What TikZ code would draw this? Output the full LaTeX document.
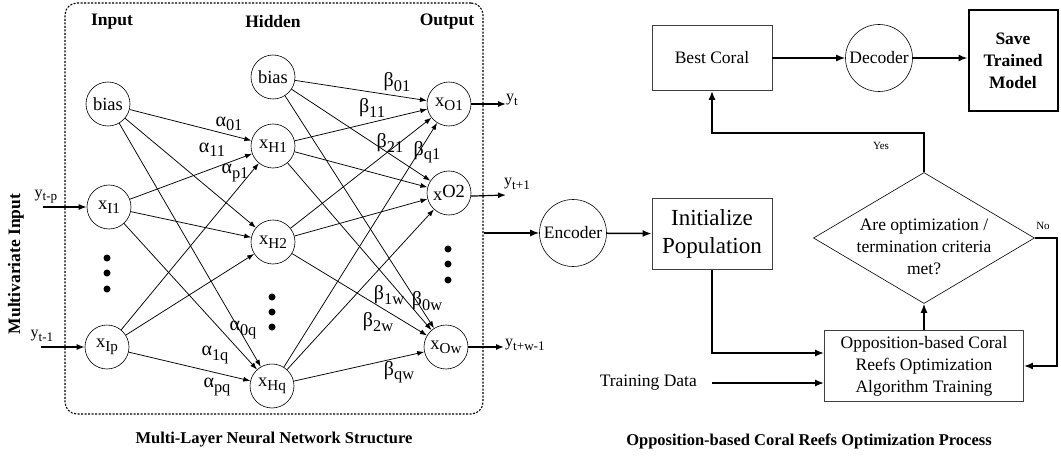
\documentclass[tikz,border=0pt]{standalone}
\usepackage{fontspec}
\setmainfont{LiberationSerif}[Extension=.ttf, UprightFont=*-Regular, BoldFont=*-Bold, ItalicFont=*-Italic, BoldItalicFont=*-BoldItalic]
\usetikzlibrary{arrows.meta,shapes.geometric,positioning,calc}
\newcommand{\lowsub}[1]{\raisebox{-0.45ex}{\scalebox{0.82}{#1}}}

\begin{document}
\begin{tikzpicture}[
    x=1pt, y=-1pt,
    neuron/.style={circle, draw, minimum size=44pt, inner sep=0pt, line width=0.6pt, font=\fontsize{18.5}{20}\selectfont},
    coder/.style={circle, draw, minimum size=67pt, inner sep=0pt, line width=0.6pt, font=\fontsize{17.5}{20}\selectfont},
    block/.style={rectangle, draw=black!75, line width=0.9pt, align=center, inner sep=0pt, font=\fontsize{17.5}{22}\selectfont},
    layer-label/.style={font=\fontsize{17.5}{20}\selectfont\bfseries},
    caption/.style={font=\fontsize{16.5}{20}\selectfont\bfseries},
    weight/.style={font=\fontsize{20}{22}\selectfont, inner sep=0pt},
    signal/.style={font=\fontsize{16}{18}\selectfont, inner sep=0pt},
    small-label/.style={font=\fontsize{11}{12}\selectfont, inner sep=0pt},
    link/.style={-{Latex[length=7pt,width=5pt]}, line width=0.75pt},
    io-arrow/.style={-{Latex[length=8pt,width=6pt]}, line width=1.2pt},
    flow/.style={-{Latex[length=9pt,width=7pt]}, line width=1.5pt}
]
\useasboundingbox (0,0) rectangle (1061,460);

% Network frame
\node[draw, dash pattern=on 2pt off 1.5pt, line width=1.1pt, rounded corners=12pt,
      minimum width=418pt, minimum height=411pt] (net) at (274,208.5) {};

% Layer titles
\node[layer-label] (in-title) at (112,22) {Input};
\node[layer-label] (hid-title) at (273,22) {Hidden};
\node[layer-label] (out-title) at (447,22) {Output};
\node[layer-label, rotate=90] (mv-title) at (16,264) {Multivariate Input};

% Input layer
\node[neuron] (bI) at (108,104) {bias};
\node[neuron] (xI1) at (109,207) {x\lowsub{I1}};
\node[neuron] (xIp) at (107,347) {x\lowsub{Ip}};
\fill (107,258) circle (3.5pt) (107,273) circle (3.5pt) (107,289) circle (3.5pt);

% Hidden layer
\node[neuron] (bH) at (273,77) {bias};
\node[neuron] (xH1) at (273,146) {x\lowsub{H1}};
\node[neuron] (xH2) at (273,242) {x\lowsub{H2}};
\node[neuron] (xHq) at (272,386) {x\lowsub{Hq}};
\fill (272,297) circle (3.5pt) (272,312) circle (3.5pt) (272,327) circle (3.5pt);

% Output layer
\node[neuron] (xO1) at (449,104) {x\lowsub{O1}};
\node[neuron] (xO2) at (449,193) {\raisebox{-0.2em}{x}O2};
\node[neuron] (xOw) at (446,347) {x\lowsub{Ow}};
\fill (448,249) circle (3.5pt) (448,264) circle (3.5pt) (448,280) circle (3.5pt);

% Input to hidden weights
\draw[link] (bI) -- (xH1);
\draw[link] (bI) -- (xH2);
\draw[link] (bI) -- (xHq);
\draw[link] (xI1) -- (xH1);
\draw[link] (xI1) -- (xH2);
\draw[link] (xI1) -- (xHq);
\draw[link] (xIp) -- (xH1);
\draw[link] (xIp) -- (xH2);
\draw[link] (xIp) -- (xHq);

% Hidden to output weights
\draw[link] (bH) -- (xO1);
\draw[link] (bH) -- (xO2);
\draw[link] (bH) -- (xOw);
\draw[link] (xH1) -- (xO1);
\draw[link] (xH1) -- (xO2);
\draw[link] (xH1) -- (xOw);
\draw[link] (xH2) -- (xO1);
\draw[link] (xH2) -- (xO2);
\draw[link] (xH2) -- (xOw);
\draw[link] (xHq) -- (xO1);
\draw[link] (xHq) -- (xO2);
\draw[link] (xHq) -- (xOw);

% Weight labels
\node[weight] (a01) at (229,124) {α\lowsub{01}};
\node[weight] (a11) at (212,150) {α\lowsub{11}};
\node[weight] (ap1) at (235,173) {α\lowsub{p1}};
\node[weight] (a0q) at (243,330) {α\lowsub{0q}};
\node[weight] (a1q) at (215,355) {α\lowsub{1q}};
\node[weight] (apq) at (217,387) {α\lowsub{pq}};
\node[weight] (b01) at (397,82) {β\lowsub{01}};
\node[weight] (b11) at (372,108) {β\lowsub{11}};
\node[weight] (b21) at (390,143) {β\lowsub{21}};
\node[weight] (bq1) at (427,152) {β\lowsub{q1}};
\node[weight] (b1w) at (389,295) {β\lowsub{1w}};
\node[weight] (b0w) at (427,301) {β\lowsub{0w}};
\node[weight] (b2w) at (378,322) {β\lowsub{2w}};
\node[weight] (bqw) at (399,372) {β\lowsub{qw}};

% Inputs and outputs
\coordinate (in1) at (43,207);
\coordinate (in2) at (41,347);
\node[signal] (yin1) at (46,197) {y\lowsub{t-p}};
\node[signal] (yin2) at (42,336) {y\lowsub{t-1}};
\draw[io-arrow] (in1) -- (xI1);
\draw[io-arrow] (in2) -- (xIp);

\coordinate (out1) at (506,104);
\coordinate (out2) at (506,195);
\coordinate (out3) at (504,347);
\node[signal, anchor=west] (yout1) at (506,100) {y\lowsub{t}};
\node[signal, anchor=west] (yout2) at (504,184) {y\lowsub{t+1}};
\node[signal, anchor=west] (yout3) at (505,345) {y\lowsub{t+w-1}};
\draw[io-arrow] (xO1) -- (out1);
\draw[io-arrow] (xO2.-8) -- (out2);
\draw[io-arrow] (xOw) -- (out3);

\node[caption] (net-cap) at (274,440) {Multi-Layer Neural Network Structure};

% Optimization process
\node[coder] (enc) at (573,233) {Encoder};
\node[block, minimum width=120pt, minimum height=71pt, font=\fontsize{23}{28}\selectfont] (init) at (712,234) {Initialize\\Population};
\node[block, minimum width=120pt, minimum height=65pt] (best) at (712,58) {Best Coral};
\node[coder] (dec) at (879,58) {Decoder};
\node[block, draw=black, line width=2pt, minimum width=89pt, minimum height=101pt, font=\fontsize{17.5}{22}\selectfont\bfseries] (save) at (1013,60.5) {Save\\Trained\\Model};
\node[block, minimum width=199pt, minimum height=71pt] (ocro) at (924,366) {Opposition-based Coral\\Reefs Optimization\\Algorithm Training};
\node[diamond, draw, aspect=1.69, minimum width=221pt, minimum height=131pt, inner sep=0pt, line width=0.6pt] (crit) at (924,238) {};
\node[align=center, font=\fontsize{17.5}{22}\selectfont] (crit-text) at ($(crit.center)+(0,9)$) {Are optimization /\\termination criteria\\met?};
\node[anchor=east, inner xsep=15pt, font=\fontsize{17.5}{20}\selectfont] (train) at (712,383) {Training Data};

\draw[flow] (enc -| net.east) -- (enc);
\draw[flow] (enc) -- (init);
\draw[flow] (init.south) |- ($(ocro.west)+(0,-13)$);
\draw[flow] (train.east) -- (train.east -| ocro.west);
\draw[flow] (ocro.north) -- (crit.south);
\draw[flow] (crit.north) -- ++(0,-39) -| (best.south);
\draw[flow] (crit.east) -- ++(22,0) |- (ocro.east);
\draw[flow] (best.east |- dec) -- (dec);
\draw[flow] (dec.east) -- (dec.east -| save.west);

\node[small-label] (yes) at (881,146) {Yes};
\node[small-label] (no) at (1043,226) {No};

\node[caption] (opt-cap) at (809,441) {Opposition-based Coral Reefs Optimization Process};

\end{tikzpicture}
\end{document}
